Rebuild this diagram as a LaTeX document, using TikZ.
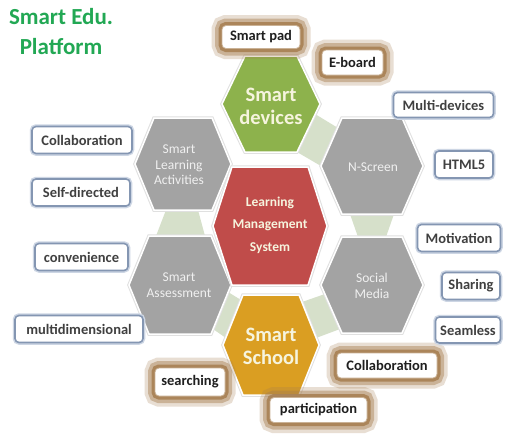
\documentclass[tikz,border=0pt]{standalone}
\usepackage{fontspec}
\setmainfont{Carlito}
\definecolor{titlegreen}{RGB}{34,168,84}
\definecolor{hexgreen}{RGB}{141,178,76}
\definecolor{hexred}{RGB}{192,76,74}
\definecolor{hexorange}{RGB}{218,158,34}
\definecolor{hexgray}{RGB}{163,163,163}
\definecolor{linkgreen}{RGB}{214,224,202}
\definecolor{boxblue}{RGB}{132,150,178}
\definecolor{boxglow}{RGB}{205,214,228}
\definecolor{brownglow}{RGB}{166,126,80}
\definecolor{boxtext}{RGB}{64,64,64}
\definecolor{creamtext}{RGB}{246,244,222}
\definecolor{graytext}{RGB}{240,240,240}
\newcommand{\drawhex}[6]{%
  \filldraw[hexborder, fill=#6] ({#1-#3},{#2}) -- ({#1-#5},{#2-#4}) -- ({#1+#5},{#2-#4})
    -- ({#1+#3},{#2}) -- ({#1+#5},{#2+#4}) -- ({#1-#5},{#2+#4}) -- cycle;}
\tikzset{
  hexborder/.style={draw=white, line width=1.5pt, line join=miter,
    preaction={draw=black!12, line width=3.5pt}},
  linkshape/.style={fill=linkgreen},
  bluebox/.style={fill=white, draw=boxblue, line width=1.6pt, rounded corners=4pt,
    preaction={draw=boxglow, line width=4.5pt},
    font=\bfseries\fontsize{14.5}{17}\selectfont, text=boxtext,
    minimum height=27pt, inner xsep=4pt, inner ysep=0pt},
  brownbox/.style={fill=white, draw=brownglow!60!white, line width=0.8pt, rounded corners=4pt,
    preaction={draw=brownglow, line width=21pt, opacity=0.25},
    preaction={draw=brownglow, line width=14pt, opacity=0.45},
    preaction={draw=brownglow, line width=7pt, opacity=0.85},
    font=\bfseries\fontsize{14.5}{17}\selectfont, text=black!88,
    minimum height=25pt, inner xsep=4pt, inner ysep=0pt},
  bigtext/.style={align=center, font=\bfseries\fontsize{20.5}{23}\selectfont, text=creamtext},
  graylabel/.style={align=center, font=\fontsize{13.5}{15.5}\selectfont, text=graytext},
  redlabel/.style={align=center, font=\bfseries\fontsize{13.5}{22.5}\selectfont, text=creamtext},
}
\begin{document}
\begin{tikzpicture}[x=1pt,y=-1pt]
\useasboundingbox (0,0) rectangle (505,434);
\fill[white] (0,0) rectangle (505,434);

% link shapes between outer hexagons
\fill[linkshape] (315,114) -- (297,152) -- (321,166) -- (338,128) -- cycle;
\fill[linkshape] (350,214) -- (394,214) -- (386,237) -- (358,237) -- cycle;
\fill[linkshape] (325,294) -- (340,329) -- (316,338) -- (302,302) -- cycle;
\fill[linkshape] (241,300) -- (226,338) -- (213,329) -- (228,292) -- cycle;
\fill[linkshape] (166,210) -- (198,210) -- (205,236) -- (156,236) -- cycle;

% hexagons
\drawhex{271}{104}{49}{48}{26}{hexgreen}
\drawhex{372}{166}{51}{48}{30}{hexgray}
\drawhex{372}{285}{51}{48}{30}{hexgray}
\drawhex{271}{345}{48}{50}{28}{hexorange}
\drawhex{180}{285}{51}{49}{31}{hexgray}
\drawhex{183}{164}{48}{46}{29}{hexgray}
\drawhex{270}{226}{57}{59}{38}{hexred}

% hexagon labels
\node[bigtext] (devices) at (271,106) {Smart\\devices};
\node[bigtext] (school) at (271,346) {Smart\\School};
\node[graylabel] (nscreen) at (373,167) {N-Screen};
\node[graylabel] (social) at (372,286) {Social\\Media};
\node[graylabel] (sla) at (179,165) {Smart\\Learning\\Activities};
\node[graylabel] (assess) at (179,285) {Smart\\Assessment};
\node[redlabel] (lms) at (270,225) {Learning\\Management\\System};

% title
\node[align=center, font=\bfseries\fontsize{23}{30}\selectfont, text=titlegreen] (title) at (61,32) {Smart Edu.\\Platform};

% brown boxes
\node[brownbox, minimum width=78pt, minimum height=23pt] (pad) at (261,37) {Smart pad};
\node[brownbox, minimum width=61pt] (eboard) at (352.5,62.5) {E-board};
\node[brownbox, minimum width=70pt, minimum height=28pt] (search) at (190,382) {searching};
\node[brownbox, minimum width=100pt] (collab2) at (387,365.5) {Collaboration};
\node[brownbox, minimum width=97pt] (particip) at (318.5,410) {participation};

% blue boxes
\node[bluebox, minimum width=100pt, minimum height=25pt] (multi) at (443.5,105) {Multi-devices};
\node[bluebox, minimum width=58pt] (html) at (464,164.5) {HTML5};
\node[bluebox, minimum width=83pt] (motiv) at (459,238) {Motivation};
\node[bluebox, minimum width=58pt] (share) at (471,286) {Sharing};
\node[bluebox, minimum width=65pt, minimum height=26pt] (seam) at (468,330) {Seamless};
\node[bluebox, minimum width=100pt] (collab1) at (82,140) {Collaboration};
\node[bluebox, minimum width=98pt] (selfdir) at (81,192.5) {Self-directed};
\node[bluebox, minimum width=93pt] (conv) at (81.5,257) {convenience};
\node[bluebox, minimum width=128pt] (multidim) at (79,329) {multidimensional};
\end{tikzpicture}
\end{document}
